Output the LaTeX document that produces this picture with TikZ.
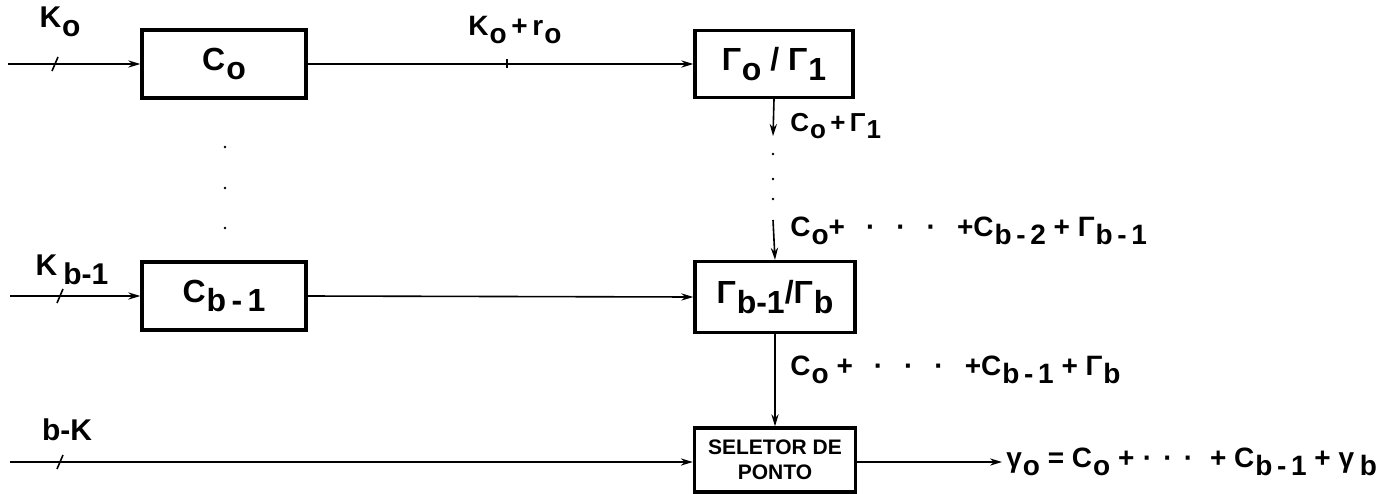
\documentclass[tikz,border=0pt]{standalone}
\usepackage{fontspec}
\setmainfont{Liberation Sans}
\usetikzlibrary{arrows.meta}
\newcommand\sbx[1]{\raisebox{-0.55ex}{\kern0.5pt#1}}
\newcommand\ddd{\hspace{0.75em}·\hspace{0.75em}·\hspace{0.75em}·\hspace{0.75em}}
\begin{document}
\begin{tikzpicture}[x=0.5pt,y=-0.5pt,
  box/.style={draw,line width=1.7pt,inner sep=0pt,minimum width=82pt,minimum height=34pt,
              font=\bfseries\fontsize{16}{18}\selectfont},
  sig/.style={line width=0.8pt,-{Stealth[length=6pt,width=3.6pt]}},
  lbl/.style={font=\bfseries\fontsize{14}{16}\selectfont,inner sep=1pt},
  biglbl/.style={font=\bfseries\fontsize{15}{17}\selectfont,inner sep=1pt},
  tick/.style={line width=0.8pt}]
\useasboundingbox (0,0) rectangle (1398,493);

% boxes
\node[box] (c0) at (224,64) {C\sbx{o}};
\node[box] (g0) at (774,64) [minimum width=79pt,minimum height=33.5pt] {Γ\sbx{o} / Γ\sbx{1}};
\node[box] (cb) at (224,296) {C\sbx{b\,-\,1}};
\node[box] (gb) at (775,297) [minimum width=80pt,minimum height=35.5pt] {Γ\sbx{b-1}/Γ\sbx{b}};
\node[box] (sel) at (775,460) [minimum width=80.5pt,minimum height=32pt,
   font=\bfseries\fontsize{10.5}{12.5}\selectfont,align=center] {SELETOR DE\\PONTO};

% free ends
\coordinate (in0) at (8,64);
\coordinate (inb) at (10,296);
\coordinate (ink) at (10,462);
\coordinate (g0d) at (773,136);
\coordinate (gbu) at (773,220);
\coordinate (out) at (1002,462);

% connectors
\draw[sig] (in0) -- (c0.west);
\draw[sig] (c0.east) -- (g0.west);
\draw[sig] (g0.south) -- (g0d);
\draw[sig] (gbu) -- (gb.north);
\draw[sig] (inb) -- (cb.west);
\draw[sig] (cb.east) -- (gb.west);
\draw[sig] (gb.south) -- (sel.north);
\draw[sig] (ink) -- (sel.west |- ink);
\draw[sig] (sel.east |- out) -- (out);

% ticks
\draw[tick] (52,71) -- (58,57);
\draw[tick] (57,303) -- (63,289);
\draw[tick] (57,469) -- (63,455);
\draw[tick] (507,59) -- (507,68);

% dots
\foreach \y in {147,188,228} \fill (225,\y) circle (1.4);
\foreach \y in {154,179,199} \fill (773,\y) circle (1.4);

% labels
\node[biglbl] (lk0) at (60,22) {K\sbx{o}};
\node[lbl] (lkr) at (515,30) {K\sbx{o}\,+\,r\sbx{o}};
\node[biglbl] (lkb) at (72,270) {K\sbx{\,b-1}};
\node[biglbl] (lbk) at (67,430) {b-K};
\node[lbl,font=\bfseries\fontsize{13}{15}\selectfont,anchor=west] (l1) at (788,126) {C\sbx{o}\,+\,Γ\sbx{1}};
\node[lbl,anchor=west] (l2) at (788,231) {C\sbx{o}+\ddd+C\sbx{b\,-\,2} + Γ\sbx{b\,-\,1}};
\node[lbl,anchor=west] (l3) at (788,370) {C\sbx{o} +\ddd+C\sbx{b\,-\,1} + Γ\sbx{b}};
\node[lbl,anchor=west] (l4) at (1004,462) {γ\sbx{o} = C\sbx{o} +\hspace{0.3em}·\hspace{0.4em}·\hspace{0.4em}·\hspace{0.6em}+ C\sbx{b\,-\,1} + γ\sbx{\,b}};
\end{tikzpicture}
\end{document}
